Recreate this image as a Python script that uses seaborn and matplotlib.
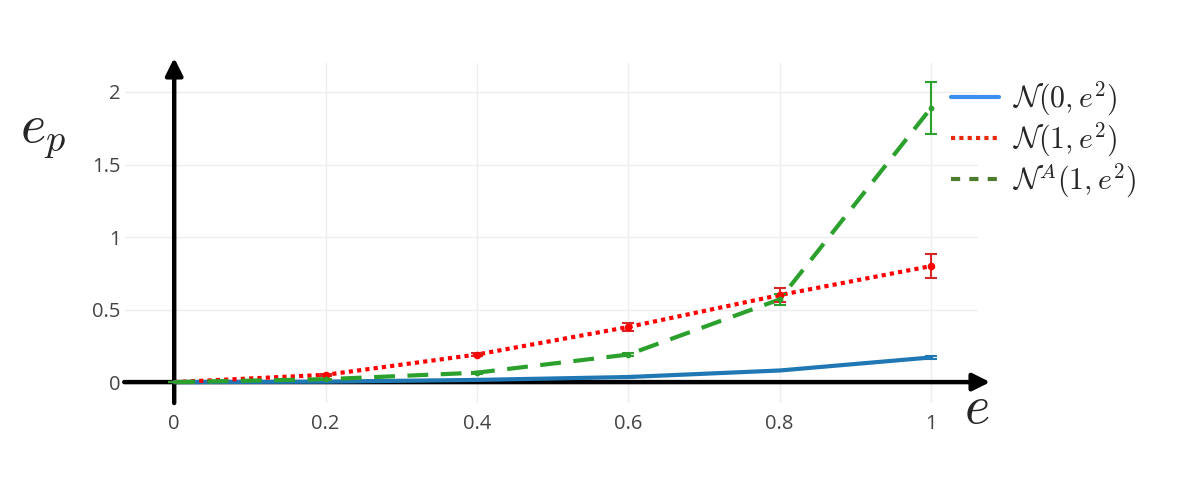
import numpy as np
import pandas as pd
import seaborn as sns
import matplotlib.pyplot as plt
from matplotlib.lines import Line2D

# values
e_vals = [0, 0.2, 0.4, 0.6, 0.8, 1.0]
n0 = [0, 0.003, 0.015, 0.035, 0.08, 0.17]
n0_err = [0, 0.002, 0.003, 0.004, 0.005, 0.012]
n1 = [0, 0.05, 0.19, 0.38, 0.60, 0.80]
n1_err = [0, 0.006, 0.012, 0.03, 0.05, 0.08]
na = [0, 0.02, 0.065, 0.19, 0.57, 1.89]
na_err = [0, 0.004, 0.006, 0.012, 0.04, 0.18]

labels = [r'$\mathcal{N}(0,e^2)$', r'$\mathcal{N}(1,e^2)$', r'$\mathcal{N}^A(1,e^2)$']
xticks = [0, 0.2, 0.4, 0.6, 0.8, 1]
xtick_labels = ['0', '0.2', '0.4', '0.6', '0.8', '1']
yticks = [0, 0.5, 1, 1.5, 2]
ytick_labels = ['0', '0.5', '1', '1.5', '2']

line_colors = ['#1f77b4', '#ff0000', '#2ca02c']
err_colors = ['#1f77b4', '#d62728', '#2ca02c']
legend_colors = ['#3b8ff0', '#e8290b', '#4b7d2d']

df = pd.DataFrame({
    'e': e_vals * 3,
    'ep': n0 + n1 + na,
    'dist': [labels[0]] * 6 + [labels[1]] * 6 + [labels[2]] * 6,
})

sns.set_style('white')
plt.rcParams['font.family'] = ['Open Sans', 'DejaVu Sans']
plt.rcParams['mathtext.fontset'] = 'cm'

fig = plt.figure(figsize=(11.86, 4.79), dpi=100)
ax = fig.add_axes([0.1054, 0.1587, 0.7192, 0.7098])

sns.lineplot(data=df, x='e', y='ep', hue='dist', style='dist',
             palette=dict(zip(labels, line_colors)),
             dashes={labels[0]: '', labels[1]: (1, 1), labels[2]: (5, 3)},
             linewidth=3, legend=False, ax=ax, zorder=4)

for ys, errs, c in zip([n0, n1, na], [n0_err, n1_err, na_err], err_colors):
    ax.errorbar(e_vals, ys, yerr=errs, fmt='none', ecolor=c, elinewidth=1.5,
                capsize=4, capthick=1.5, zorder=5)
ax.scatter(e_vals[1:], n1[1:], s=20, color='#ff0000', zorder=6)
ax.scatter(e_vals[1:], na[1:], s=10, color='#2ca02c', zorder=6)

ax.set_xlim(-0.065, 1.062)
ax.set_ylim(-0.144, 2.2)
ax.set_xticks(xticks)
ax.set_xticklabels(xtick_labels)
ax.set_yticks(yticks)
ax.set_yticklabels(ytick_labels)
ax.tick_params(length=0, labelsize=14.5, labelcolor='#444444')
ax.tick_params(axis='x', pad=8)
ax.tick_params(axis='y', pad=3)
ax.grid(True, color='#eeeeee', linewidth=1)
ax.set_xlabel('')
ax.set_ylabel('')
for s in ax.spines.values():
    s.set_visible(False)

# black axis arrows
ax.annotate('', xy=(1.078, 0), xytext=(-0.066, 0), annotation_clip=False,
            arrowprops=dict(arrowstyle='-|>', color='black', lw=3.2, mutation_scale=26,
                            shrinkA=0, shrinkB=0), zorder=3)
ax.annotate('', xy=(0, 2.235), xytext=(0, -0.144), annotation_clip=False,
            arrowprops=dict(arrowstyle='-|>', color='black', lw=3.2, mutation_scale=26,
                            shrinkA=0, shrinkB=0), zorder=3)

fig.text(43 / 1186, 1 - 133 / 479, r'$e_p$', fontsize=39, ha='center', va='center')
fig.text(977 / 1186, 1 - 408 / 479, r'$e$', fontsize=39, ha='center', va='center')

handles = [
    Line2D([], [], color=legend_colors[0], lw=3),
    Line2D([], [], color=legend_colors[1], lw=3, dashes=(1, 1)),
    Line2D([], [], color=legend_colors[2], lw=3, dashes=(2.2, 2.2)),
]
fig.legend(handles, labels, loc='upper left', bbox_to_anchor=(951 / 1186, 1 - 80 / 479),
           frameon=False, fontsize=21.5, handlelength=1.6, handletextpad=0.47,
           labelspacing=0.1, borderaxespad=0, borderpad=0)

fig.savefig('out.png', dpi=100)
